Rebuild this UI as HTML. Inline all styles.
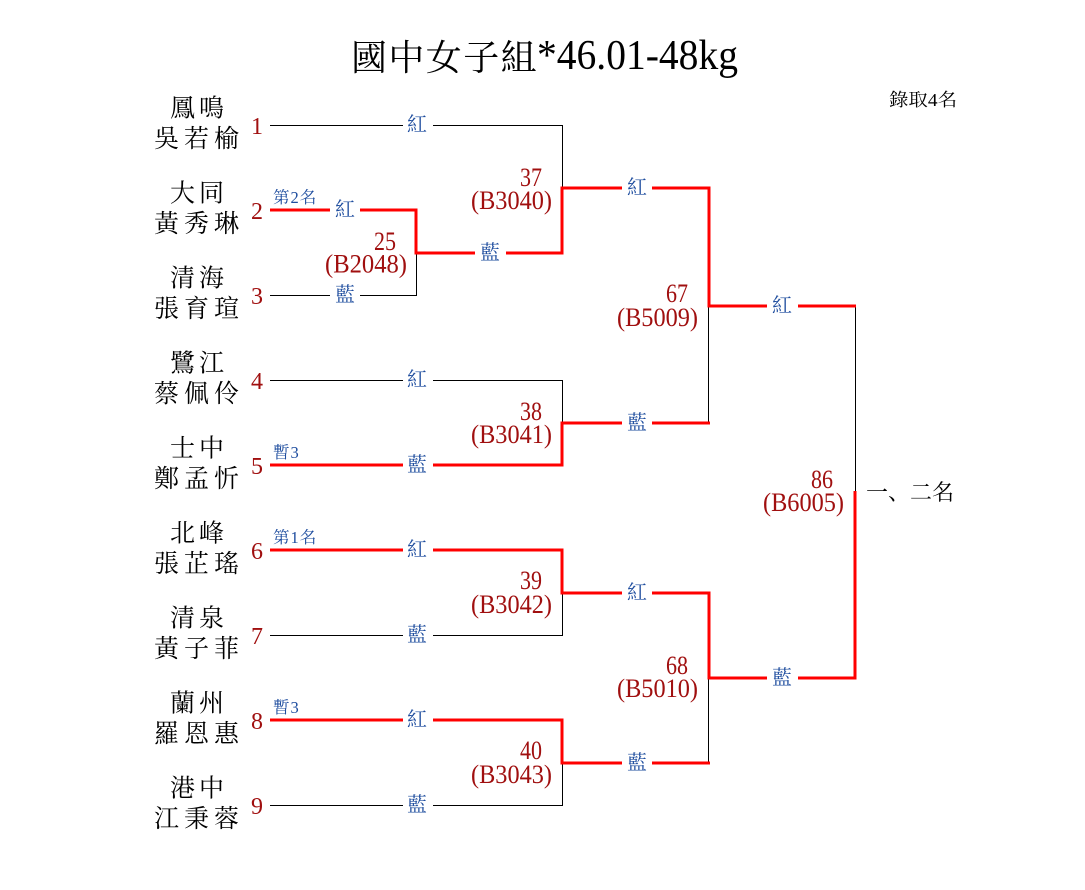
<!DOCTYPE html>
<html><head><meta charset="utf-8"><style>
html,body{margin:0;padding:0;background:#fff;}
svg{display:block;}
.nm{font-family:"Liberation Serif","Noto Serif CJK SC",serif;font-size:25px;fill:#000;}
.rn{font-family:"Liberation Serif",serif;font-size:24px;fill:#a00f0f;}
.mn{font-family:"Liberation Serif",serif;font-size:26px;fill:#a00f0f;}
.lb{font-family:"Liberation Serif","Noto Serif CJK SC",serif;font-size:20px;fill:#1d4c9e;}
.sm{font-family:"Liberation Serif","Noto Serif CJK SC",serif;font-size:16.5px;fill:#1d4c9e;letter-spacing:1px;}
</style></head><body>
<svg width="1085" height="890" viewBox="0 0 1085 890" xmlns="http://www.w3.org/2000/svg">
<rect width="1085" height="890" fill="#fff"/>
<!-- title -->
<text x="351" y="70" style="font-family:'Liberation Serif','Noto Serif CJK SC',serif;font-size:36px;letter-spacing:1.4px" fill="#000">國中女子組</text>
<text x="537" y="69" style="font-family:'Liberation Serif',serif;font-size:42px" fill="#000" textLength="201" lengthAdjust="spacingAndGlyphs">*46.01-48kg</text>
<text x="889" y="106" style="font-family:'Liberation Serif','Noto Serif CJK SC',serif;font-size:18px" fill="#000" textLength="68" lengthAdjust="spacingAndGlyphs">錄取4名</text>

<!-- black thin lines -->
<g stroke="#000" stroke-width="1" fill="none">
<polyline points="270,125.5 562.5,125.5 562.5,188"/>
<polyline points="270,295.5 416.5,295.5 416.5,253"/>
<polyline points="270,380.5 562.5,380.5 562.5,423"/>
<polyline points="270,635.5 562.5,635.5 562.5,593"/>
<polyline points="270,805.5 562.5,805.5 562.5,763"/>
<line x1="708.5" y1="306" x2="708.5" y2="423"/>
<line x1="708.5" y1="678" x2="708.5" y2="763"/>
<line x1="855.5" y1="306" x2="855.5" y2="492"/>
</g>
<!-- red thick lines -->
<g stroke="#ff0000" stroke-width="3" fill="none" stroke-linejoin="miter">
<polyline points="270,210 416,210 416,253 562,253 562,188 709,188 709,306 856,306"/>
<polyline points="270,465 562,465 562,423 710,423"/>
<polyline points="270,550 562,550 562,593 709,593 709,678 855,678 855,491"/>
<polyline points="270,720 562,720 562,763 710,763"/>
</g>
<!-- label gaps -->
<g fill="#fff">
<rect x="403" y="119" width="30" height="12"/>
<rect x="330" y="204" width="30" height="12"/>
<rect x="330" y="289" width="30" height="12"/>
<rect x="403" y="374" width="30" height="12"/>
<rect x="403" y="459" width="30" height="12"/>
<rect x="403" y="544" width="30" height="12"/>
<rect x="403" y="629" width="30" height="12"/>
<rect x="403" y="714" width="30" height="12"/>
<rect x="403" y="799" width="30" height="12"/>
<rect x="475" y="247" width="31" height="12"/>
<rect x="622" y="182" width="30" height="12"/>
<rect x="622" y="417" width="30" height="12"/>
<rect x="622" y="587" width="30" height="12"/>
<rect x="622" y="757" width="30" height="12"/>
<rect x="767" y="300" width="31" height="12"/>
<rect x="767" y="672" width="31" height="12"/>
</g>
<!-- labels -->
<g class="lb" text-anchor="middle">
<text x="417" y="131">紅</text>
<text x="345" y="216">紅</text>
<text x="345" y="301">藍</text>
<text x="417" y="386">紅</text>
<text x="417" y="471">藍</text>
<text x="417" y="556">紅</text>
<text x="417" y="641">藍</text>
<text x="417" y="726">紅</text>
<text x="417" y="811">藍</text>
<text x="490" y="259">藍</text>
<text x="637" y="194">紅</text>
<text x="637" y="429">藍</text>
<text x="637" y="599">紅</text>
<text x="637" y="769">藍</text>
<text x="782" y="312">紅</text>
<text x="782" y="684">藍</text>
</g>
<!-- small notes -->
<g class="sm">
<text x="273" y="203">第2名</text>
<text x="273" y="458">暫3</text>
<text x="273" y="543">第1名</text>
<text x="273" y="713">暫3</text>
</g>
<!-- row numbers -->
<g class="rn">
<text x="251" y="134">1</text>
<text x="251" y="219">2</text>
<text x="251" y="304">3</text>
<text x="251" y="389">4</text>
<text x="251" y="474">5</text>
<text x="251" y="559">6</text>
<text x="251" y="644">7</text>
<text x="251" y="729">8</text>
<text x="251" y="814">9</text>
</g>
<!-- names -->
<g class="nm">
<text x="170 199" y="116.5">鳳鳴</text><text x="154 184 214" y="147">吳若榆</text>
<text x="170 199" y="201.5">大同</text><text x="154 184 214" y="232">黃秀琳</text>
<text x="170 199" y="286.5">清海</text><text x="154 184 214" y="317">張育瑄</text>
<text x="170 199" y="371.5">鷺江</text><text x="154 184 214" y="402">蔡佩伶</text>
<text x="170 199" y="456.5">士中</text><text x="154 184 214" y="487">鄭孟忻</text>
<text x="170 199" y="541.5">北峰</text><text x="154 184 214" y="572">張芷瑤</text>
<text x="170 199" y="626.5">清泉</text><text x="154 184 214" y="657">黃子菲</text>
<text x="170 199" y="711.5">蘭州</text><text x="154 184 214" y="742">羅恩惠</text>
<text x="170 199" y="796.5">港中</text><text x="154 184 214" y="827">江秉蓉</text>
</g>
<!-- match numbers -->
<g class="mn">
<text x="374" y="250" textLength="22" lengthAdjust="spacingAndGlyphs">25</text>
<text x="325" y="272.5" textLength="82" lengthAdjust="spacingAndGlyphs">(B2048)</text>
<text x="520" y="186" textLength="22" lengthAdjust="spacingAndGlyphs">37</text>
<text x="471" y="209" textLength="81" lengthAdjust="spacingAndGlyphs">(B3040)</text>
<text x="520" y="420" textLength="22" lengthAdjust="spacingAndGlyphs">38</text>
<text x="471" y="443" textLength="81" lengthAdjust="spacingAndGlyphs">(B3041)</text>
<text x="520" y="589" textLength="22" lengthAdjust="spacingAndGlyphs">39</text>
<text x="471" y="613" textLength="81" lengthAdjust="spacingAndGlyphs">(B3042)</text>
<text x="520" y="759" textLength="22" lengthAdjust="spacingAndGlyphs">40</text>
<text x="471" y="783" textLength="81" lengthAdjust="spacingAndGlyphs">(B3043)</text>
<text x="666" y="302" textLength="22" lengthAdjust="spacingAndGlyphs">67</text>
<text x="617" y="326" textLength="81" lengthAdjust="spacingAndGlyphs">(B5009)</text>
<text x="666" y="674" textLength="22" lengthAdjust="spacingAndGlyphs">68</text>
<text x="617" y="697" textLength="81" lengthAdjust="spacingAndGlyphs">(B5010)</text>
<text x="811" y="488" textLength="22" lengthAdjust="spacingAndGlyphs">86</text>
<text x="763" y="511" textLength="81" lengthAdjust="spacingAndGlyphs">(B6005)</text>
</g>
<text x="866" y="500" style="font-family:'Liberation Serif','Noto Serif CJK SC',serif;font-size:22px" fill="#000">一、二名</text>
</svg>
</body></html>
